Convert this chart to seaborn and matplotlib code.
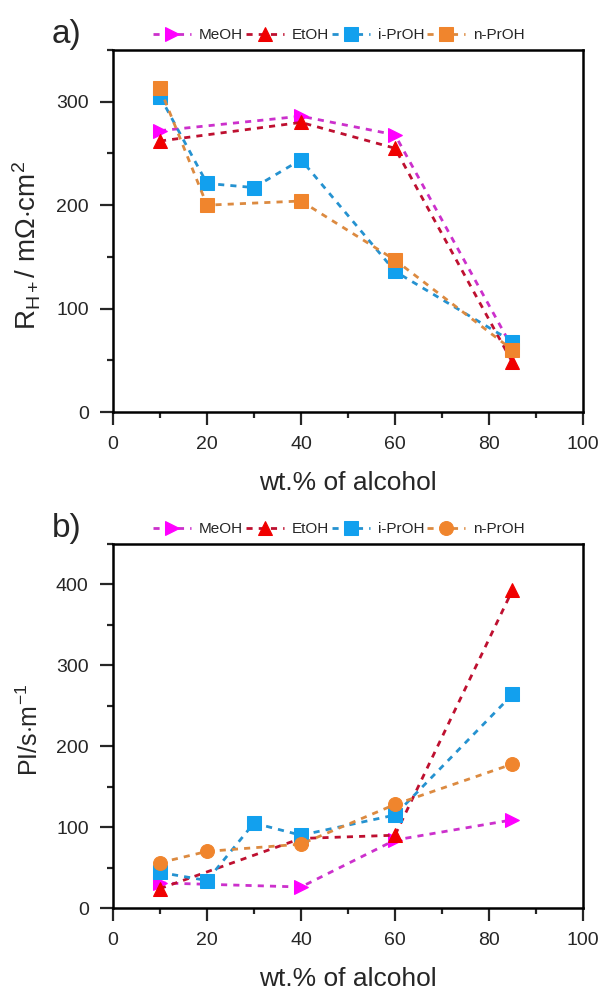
import pandas as pd
import matplotlib
matplotlib.use('Agg')
import matplotlib.pyplot as plt
import seaborn as sns
from matplotlib.ticker import MultipleLocator

# Donnees
series = ['MeOH', 'EtOH', 'i-PrOH', 'n-PrOH']

# a) resistance protonique
r_meoh_x = [10, 40, 60, 85]
r_meoh_y = [272, 286, 268, 62]
r_etoh_x = [10, 40, 60, 85]
r_etoh_y = [262, 280, 255, 48]
r_ipr_x = [10, 20, 30, 40, 60, 85]
r_ipr_y = [305, 221, 217, 244, 136, 68]
r_npr_x = [10, 20, 40, 60, 85]
r_npr_y = [313, 200, 204, 147, 60]

# b) PI
p_meoh_x = [10, 40, 60, 85]
p_meoh_y = [31, 26, 84, 109]
p_etoh_x = [10, 40, 60, 85]
p_etoh_y = [24, 86, 90, 393]
p_ipr_x = [10, 20, 30, 40, 60, 85]
p_ipr_y = [44, 34, 105, 90, 115, 264]
p_npr_x = [10, 20, 40, 60, 85]
p_npr_y = [56, 70, 79, 128, 178]


def long_df(parts):
    rows = []
    for name, xs, ys in parts:
        for x, y in zip(xs, ys):
            rows.append({'serie': name, 'wt': x, 'val': y})
    return pd.DataFrame(rows)


df_a = long_df([('MeOH', r_meoh_x, r_meoh_y), ('EtOH', r_etoh_x, r_etoh_y),
                ('i-PrOH', r_ipr_x, r_ipr_y), ('n-PrOH', r_npr_x, r_npr_y)])
df_b = long_df([('MeOH', p_meoh_x, p_meoh_y), ('EtOH', p_etoh_x, p_etoh_y),
                ('i-PrOH', p_ipr_x, p_ipr_y), ('n-PrOH', p_npr_x, p_npr_y)])

sns.set_style('ticks')
plt.rcParams['font.family'] = ['Liberation Sans', 'DejaVu Sans']
plt.rcParams['mathtext.fontset'] = 'custom'
plt.rcParams['mathtext.rm'] = 'Liberation Sans'
plt.rcParams['mathtext.it'] = 'Liberation Sans'

line_col = {'MeOH': '#CC30CC', 'EtOH': '#BE1030', 'i-PrOH': '#2592D0', 'n-PrOH': '#DC8A40'}
mark_col = {'MeOH': '#FF00FF', 'EtOH': '#F00000', 'i-PrOH': '#12A0EE', 'n-PrOH': '#F0852D'}

fig = plt.figure(figsize=(6.02, 9.94), dpi=100)
ax_a = fig.add_axes([0.1877, 0.5855, 0.7807, 0.3642])
ax_b = fig.add_axes([0.1877, 0.0865, 0.7807, 0.3662])


def draw(ax, df, markers, ylim, ylabel, ylab_size, ylab_y, letter):
    for name in series:
        sub = df[df['serie'] == name]
        sns.lineplot(data=sub, x='wt', y='val', ax=ax, color=line_col[name],
                     linestyle=(0, (2.2, 2.2)), linewidth=2,
                     marker=markers[name], markersize=10,
                     markerfacecolor=mark_col[name], markeredgecolor=mark_col[name],
                     label=name)
    ax.set_xlim(0, 100)
    ax.set_ylim(*ylim)
    ax.xaxis.set_major_locator(MultipleLocator(20))
    ax.xaxis.set_minor_locator(MultipleLocator(10))
    ax.yaxis.set_major_locator(MultipleLocator(100))
    ax.yaxis.set_minor_locator(MultipleLocator(50))
    ax.tick_params(which='major', length=9.5, width=1.6, labelsize=14, direction='out', pad=8)
    ax.tick_params(which='minor', length=4.5, width=1.6, direction='out')
    for s in ax.spines.values():
        s.set_linewidth(1.8)
        s.set_color('black')
    ax.set_xlabel('wt.% of alcohol', fontsize=19, labelpad=13)
    ax.set_ylabel(ylabel, fontsize=ylab_size)
    ax.yaxis.set_label_coords(-0.148, ylab_y)
    ax.legend(loc='lower center', bbox_to_anchor=(0.48, 1.0), ncol=4, frameon=False,
              fontsize=11, handlelength=2.5, handletextpad=0.5, columnspacing=0.2,
              markerscale=1.0, borderaxespad=0.1)
    ax.text(-0.098, 1.0, letter, transform=ax.transAxes, fontsize=24, va='bottom', ha='center')


draw(ax_a, df_a, {'MeOH': '>', 'EtOH': '^', 'i-PrOH': 's', 'n-PrOH': 's'},
     (0, 350), r'R$_{\mathrm{H+}}$/ m$\Omega$$\cdot$cm$^{2}$', 20, 0.46, 'a)')
draw(ax_b, df_b, {'MeOH': '>', 'EtOH': '^', 'i-PrOH': 's', 'n-PrOH': 'o'},
     (0, 450), r'PI/s$\cdot$m$^{-1}$', 18, 0.49, 'b)')

fig.savefig('out.png', dpi=100)
